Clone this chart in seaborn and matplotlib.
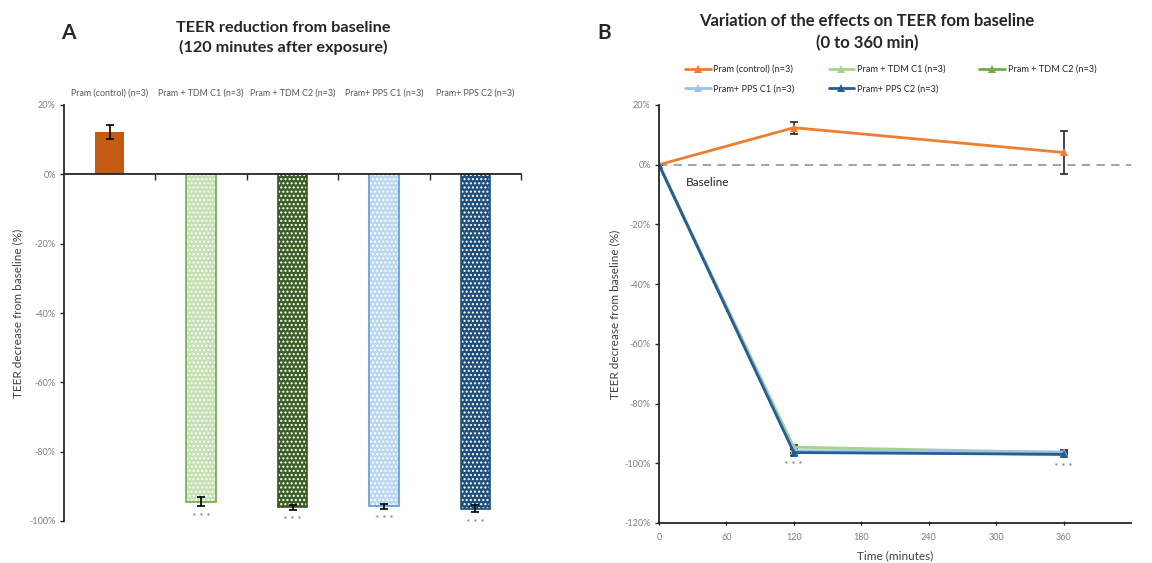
import numpy as np
import pandas as pd
import matplotlib
matplotlib.use("Agg")
import matplotlib.pyplot as plt
import seaborn as sns
from matplotlib.patches import Rectangle
from matplotlib.ticker import FixedLocator, FuncFormatter

# ---------------- data ----------------
groups = ["Pram (control) (n=3)", "Pram + TDM C1 (n=3)", "Pram + TDM C2 (n=3)",
          "Pram+ PPS C1 (n=3)", "Pram+ PPS C2 (n=3)"]
teer_120 = [12.2, -94.4, -96.0, -95.8, -96.5]
err_120 = [2.0, 1.2, 0.7, 0.6, 1.0]

times = [0, 120, 360]
control = [0.0, 12.4, 4.1]
control_err = [0.0, 2.0, 7.1]
tdm_c1 = [0.0, -94.6, -96.4]
tdm_c2 = [0.0, -96.0, -97.0]
pps_c1 = [0.0, -95.8, -96.2]
pps_c2 = [0.0, -96.4, -97.0]
small_err = [0.0, 0.8, 0.6]

# ---------------- styles ----------------
bar_colors = ["#C55A11", "#C5E0B4", "#3B5E25", "#BDD7EE", "#1F4E79"]
bar_edges = [None, "#70AD47", "#375623", "#5B9BD5", "#1F4E79"]
line_colors = ["#ED7D31", "#A9D18E", "#70AD47", "#9DC3E6", "#255E91"]

sns.set_theme(style="white")
plt.rcParams["font.family"] = ["Lato", "DejaVu Sans"]
plt.rcParams["hatch.linewidth"] = 1.0

fig = plt.figure(figsize=(11.52, 5.63), dpi=100)
W, H = 1152, 563
axA = fig.add_axes([64 / W, 1 - 521 / H, 457 / W, 416 / H])
axB = fig.add_axes([659 / W, 1 - 523 / H, 472 / W, 418 / H])

tick_col = "#7f7f7f"
pct = FuncFormatter(lambda v, p: f"{int(round(v))}%")

# ---------------- Panel A ----------------
dfA = pd.DataFrame({"group": groups, "value": teer_120})
sns.barplot(data=dfA, x="group", y="value", hue="group", palette=bar_colors,
            width=0.32, errorbar=None, legend=False, saturation=1, ax=axA)
bars = sorted(axA.patches, key=lambda p: p.get_x())
for p, edge in zip(bars, bar_edges):
    if edge is None:
        p.set_edgecolor("none")
        continue
    p.set_hatch("....")
    p.set_edgecolor("white")
    p.set_linewidth(0)
    axA.add_patch(Rectangle((p.get_x(), p.get_y()), p.get_width(), p.get_height(),
                            fill=False, edgecolor=edge, lw=1.2, zorder=p.get_zorder() + 0.1))
axA.errorbar(range(len(groups)), teer_120, yerr=err_120, fmt="none", ecolor="black",
             elinewidth=1.2, capsize=3, capthick=1.2, zorder=5)
for i, (v, e) in enumerate(zip(teer_120, err_120)):
    if i > 0:
        axA.text(i, v - e - 2.0, "* * *", ha="center", va="top", fontsize=7.5, color="#7f7f7f")

axA.set_ylim(-100, 20)
axA.set_yticks(np.arange(-100, 21, 20))
axA.yaxis.set_major_formatter(pct)
axA.set_xlim(-0.5, len(groups) - 0.5)
axA.set_xlabel("")
axA.set_ylabel("TEER decrease from baseline (%)", fontsize=8.5, color="#404040")
axA.yaxis.set_label_coords(-0.088, 0.5)
for s in ["top", "right"]:
    axA.spines[s].set_visible(False)
axA.spines["bottom"].set_position(("data", 0))
for s in ["left", "bottom"]:
    axA.spines[s].set_color("#262626")
    axA.spines[s].set_linewidth(1.3)
axA.tick_params(axis="x", which="major", bottom=False, top=True, labelbottom=False,
                labeltop=True, length=0, pad=5, labelsize=6.4, labelcolor="#595959")
axA.xaxis.set_minor_locator(FixedLocator(np.arange(0.5, len(groups), 1.0)))
axA.tick_params(axis="x", which="minor", bottom=True, top=False, length=4, width=1,
                direction="out", color="#262626")
axA.tick_params(axis="y", left=True, length=3, width=1, direction="out", color="#262626",
                labelsize=6.5, labelcolor=tick_col, pad=3)

# ---------------- Panel B ----------------
series = [("Pram (control) (n=3)", control, control_err),
          ("Pram + TDM C1 (n=3)", tdm_c1, small_err),
          ("Pram + TDM C2 (n=3)", tdm_c2, small_err),
          ("Pram+ PPS C1 (n=3)", pps_c1, small_err),
          ("Pram+ PPS C2 (n=3)", pps_c2, small_err)]

axB.axhline(0, color="#a6a6a6", ls=(0, (4, 3)), lw=1.5, zorder=0.5)
handles, labels = [], []
for (name, vals, errs), col in zip(series, line_colors):
    sns.lineplot(x=times, y=vals, color=col, marker="^", markersize=6,
                 markeredgewidth=0, linewidth=2, errorbar=None, ax=axB)
    handles.append(axB.lines[-1])
    labels.append(name)
    axB.errorbar(times, vals, yerr=errs, fmt="none", ecolor="#262626",
                 elinewidth=1.2, capsize=3, capthick=1.2, zorder=1.5)

for t in times[1:]:
    idx = times.index(t)
    low = min(s[1][idx] for s in series)
    axB.text(t, low - 3.0, "* * *", ha="center", va="top", fontsize=7.5, color="#7f7f7f")
axB.text(24, -6, "Baseline", fontsize=8.5, va="center", ha="left", color="#262626")

axB.set_xlim(0, 420)
axB.set_xticks(np.arange(0, 361, 60))
axB.set_ylim(-120, 20)
axB.set_yticks(np.arange(-120, 21, 20))
axB.yaxis.set_major_formatter(pct)
axB.set_xlabel("Time (minutes)", fontsize=8.5, color="#404040", labelpad=6)
axB.set_ylabel("TEER decrease from baseline (%)", fontsize=8.5, color="#404040")
axB.yaxis.set_label_coords(-0.082, 0.5)
for s in ["top", "right"]:
    axB.spines[s].set_visible(False)
for s in ["left", "bottom"]:
    axB.spines[s].set_color("#262626")
    axB.spines[s].set_linewidth(1.3)
axB.tick_params(axis="x", bottom=True, length=3, width=1, direction="inout", color="#262626",
                labelsize=6.5, labelcolor=tick_col, pad=6)
axB.tick_params(axis="y", left=True, length=3, width=1, direction="out", color="#262626",
                labelsize=6.5, labelcolor=tick_col, pad=3)

order = [0, 3, 1, 4, 2]
fig.legend([handles[i] for i in order], [labels[i] for i in order], ncol=3,
           loc="upper left", bbox_to_anchor=(685 / W, 1 - 65 / H), frameon=False,
           fontsize=6.6, handlelength=2.8, handletextpad=0.3, columnspacing=3.7,
           labelspacing=1.1, borderaxespad=0, borderpad=0)

# ---------------- titles ----------------
fig.text(283 / W, 1 - 38 / H, "TEER reduction from baseline\n(120 minutes after exposure)",
         ha="center", va="center", fontsize=11.7, fontweight="bold", linespacing=1.44,
         color="#262626")
fig.text(867 / W, 1 - 32 / H, "Variation of the effects on TEER fom baseline\n(0 to 360 min)",
         ha="center", va="center", fontsize=12, fontweight="bold", linespacing=1.44,
         color="#262626")
fig.text(68 / W, 1 - 33 / H, "A", ha="center", va="center", fontsize=15, fontweight="bold")
fig.text(604 / W, 1 - 33 / H, "B", ha="center", va="center", fontsize=15, fontweight="bold")

fig.savefig("out.png", dpi=100)
